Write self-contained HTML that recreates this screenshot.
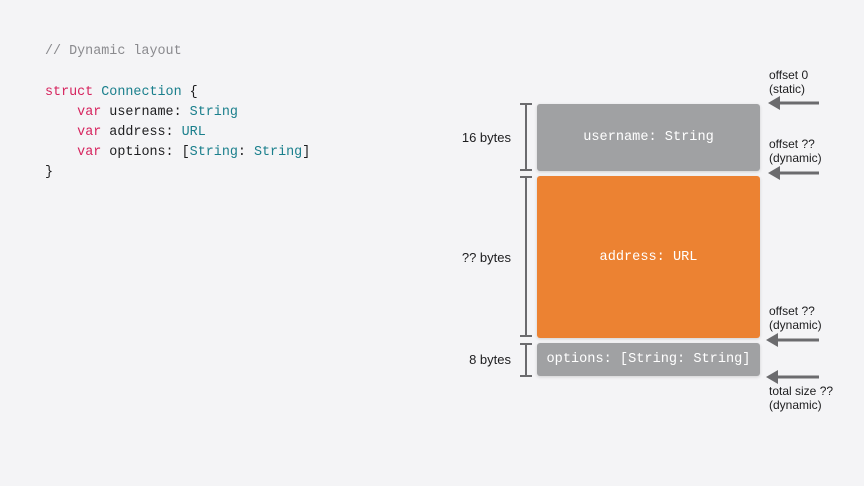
<!DOCTYPE html>
<html><head><meta charset="utf-8"><style>
body{margin:0;width:864px;height:486px;background:#f4f4f6;position:relative;overflow:hidden;font-family:"Liberation Sans",sans-serif}
.code{position:absolute;left:45px;font-family:"Liberation Mono",monospace;font-size:13.4px;color:#1d1d1f;white-space:pre;line-height:20px}
.k{color:#d6245e}.t{color:#1a7f8c}.c{color:#8a8a8e}
.box{position:absolute;left:537px;width:223px;border-radius:3px;display:flex;align-items:center;justify-content:center;color:#fff;font-family:"Liberation Mono",monospace;font-size:13.6px;box-shadow:0 1px 3px rgba(0,0,0,.15)}
.lab{position:absolute;right:353px;font-size:13px;color:#1d1d1f}
.r{position:absolute;left:769px;font-size:12px;line-height:14px;color:#1d1d1f}
</style></head><body>
<div class="code c" style="top:42px">// Dynamic layout</div>
<div class="code" style="top:83px"><span class="k">struct</span> <span class="t">Connection</span> {
    <span class="k">var</span> username: <span class="t">String</span>
    <span class="k">var</span> address: <span class="t">URL</span>
    <span class="k">var</span> options: [<span class="t">String</span>: <span class="t">String</span>]
}</div>
<div class="box" style="top:104px;height:67px;background:#a0a1a3">username: String</div>
<div class="box" style="top:176px;height:162px;background:#ec8232">address: URL</div>
<div class="box" style="top:343px;height:33px;background:#a0a1a3">options: [String: String]</div>
<div class="lab" style="top:130px">16 bytes</div>
<div class="lab" style="top:250px">?? bytes</div>
<div class="lab" style="top:352px">8 bytes</div>
<svg width="864" height="486" style="position:absolute;left:0;top:0" fill="none" stroke="#6b6b6e" stroke-width="2">
<path d="M526 104V170M520 104H532M520 170H532"/>
<path d="M526 177V336M520 177H532M520 336H532"/>
<path d="M526 344V376M520 344H532M520 376H532"/>
<g fill="#6b6b6e" stroke="none">
<path d="M768 103L780 96V110Z"/><rect x="778" y="101.5" width="41" height="3"/>
<path d="M768 173L780 166V180Z"/><rect x="778" y="171.5" width="41" height="3"/>
<path d="M766 340L778 333V347Z"/><rect x="776" y="338.5" width="43" height="3"/>
<path d="M766 377L778 370V384Z"/><rect x="776" y="375.5" width="43" height="3"/>
</g></svg>
<div class="r" style="top:68px">offset 0<br>(static)</div>
<div class="r" style="top:137px">offset ??<br>(dynamic)</div>
<div class="r" style="top:304px">offset ??<br>(dynamic)</div>
<div class="r" style="top:384px">total size ??<br>(dynamic)</div>
</body></html>
